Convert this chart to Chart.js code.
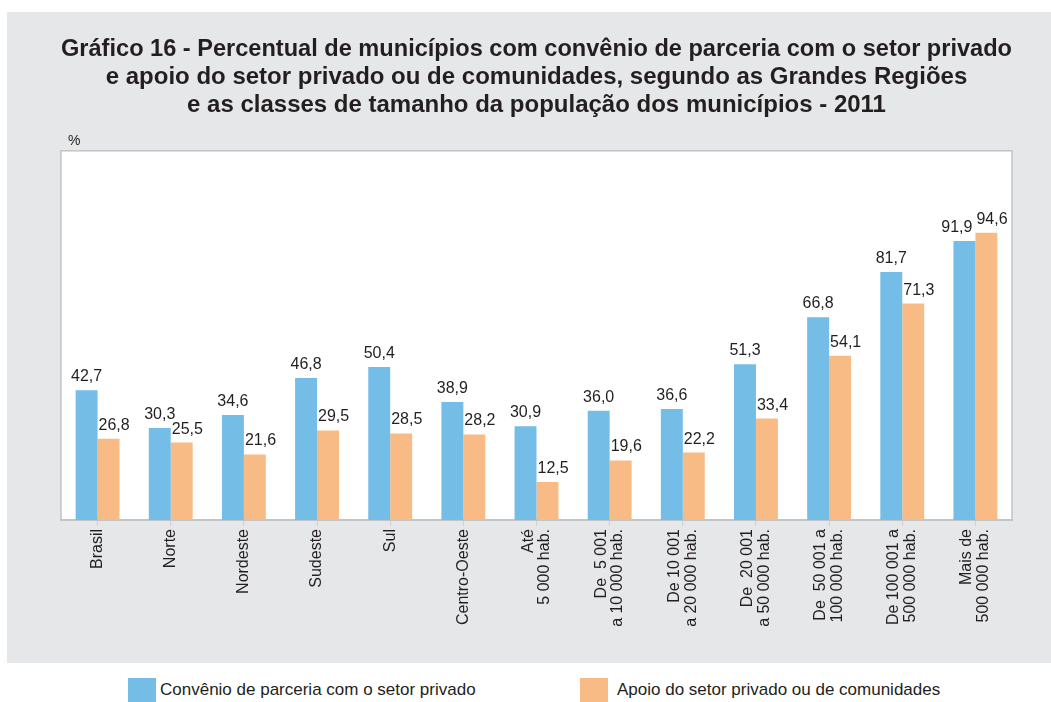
<!doctype html>
<html lang="pt-BR">
  <head>
    <meta charset="utf-8">
    <title>Gráfico 16 - Percentual de municípios com convênio de parceria</title>
    <style>
      * {
        margin: 0;
        padding: 0;
      }
      body {
        width: 1051px;
        height: 702px;
        position: relative;
        overflow: hidden;
        background: #fff;
        font-family: "Liberation Sans", Arial, sans-serif;
        color: #231f20;
      }
      .panel {
        position: absolute;
        left: 7px;
        top: 12px;
        width: 1044px;
        height: 651px;
        background: #e6e7e9;
      }
      .chartBox {
        position: absolute;
        left: 0;
        top: 0;
        width: 1051px;
        height: 663px;
      }
      .legend .item {
        position: absolute;
        top: 678px;
        height: 24px;
        display: flex;
        align-items: center;
        font-size: 17px;
        white-space: nowrap;
      }
      .legend .swatch {
        width: 28px;
        height: 24px;
      }
    </style>
  </head>
  <body>
    <div class="panel"></div>
    <div class="chartBox">
      <canvas id="myChart"></canvas>
    </div>
    <div class="legend">
      <div class="item" style="left:128px">
        <span class="swatch" style="background:#74bde7;margin-right:4px"></span>
        <span>Convênio de parceria com o setor privado</span>
      </div>
      <div class="item" style="left:580px">
        <span class="swatch" style="background:#f9bb85;margin-right:9px"></span>
        <span>Apoio do setor privado ou de comunidades</span>
      </div>
    </div>
    <script src="https://cdn.jsdelivr.net/npm/chart.js"></script>
    <script>
    const titleLines = [
      'Gráfico 16 - Percentual de municípios com convênio de parceria com o setor privado',
      'e apoio do setor privado ou de comunidades, segundo as Grandes Regiões',
      'e as classes de tamanho da população dos municípios - 2011'
    ];
    const categories = [
      'Brasil', 'Norte', 'Nordeste', 'Sudeste', 'Sul', 'Centro-Oeste',
      ['Até', '5 000 hab.'],
      ['De  5 001', 'a 10 000 hab.'],
      ['De 10 001', 'a 20 000 hab.'],
      ['De  20 001', 'a 50 000 hab.'],
      ['De  50 001 a', '100 000 hab.'],
      ['De 100 001 a', '500 000 hab.'],
      ['Mais de', '500 000 hab.']
    ];
    const convenio = [42.7, 30.3, 34.6, 46.8, 50.4, 38.9, 30.9, 36.0, 36.6, 51.3, 66.8, 81.7, 91.9];
    const apoio = [26.8, 25.5, 21.6, 29.5, 28.5, 28.2, 12.5, 19.6, 22.2, 33.4, 54.1, 71.3, 94.6];
    const seriesNames = ['Convênio de parceria com o setor privado', 'Apoio do setor privado ou de comunidades'];

    const family = '"Liberation Sans", Arial, sans-serif';
    const ink = '#231f20';

    // white plot box with grey frame, plus the "%" unit
    const panelPlugin = {
      id: 'panel',
      beforeDraw(chart) {
        const {ctx, chartArea: a} = chart;
        ctx.save();
        ctx.fillStyle = '#fff';
        ctx.fillRect(a.left, a.top, a.right - a.left, a.bottom - a.top);
        ctx.strokeStyle = '#c3c4c6';
        ctx.lineWidth = 1.5;
        ctx.strokeRect(a.left, a.top, a.right - a.left, a.bottom - a.top);
        ctx.fillStyle = ink;
        ctx.font = '14px ' + family;
        ctx.textAlign = 'left';
        ctx.textBaseline = 'alphabetic';
        ctx.fillText('%', a.left + 7, a.top - 6);
        ctx.restore();
      }
    };

    // value above each bar, pt-BR decimal comma
    const valuePlugin = {
      id: 'values',
      afterDatasetsDraw(chart) {
        const ctx = chart.ctx;
        const blue = chart.getDatasetMeta(0).data;
        const orange = chart.getDatasetMeta(1).data;
        const fmt = v => v.toFixed(1).replace('.', ',');
        ctx.save();
        ctx.fillStyle = ink;
        ctx.font = '16px ' + family;
        ctx.textBaseline = 'alphabetic';
        blue.forEach((bar, j) => {
          const a = fmt(convenio[j]);
          const b = fmt(apoio[j]);
          const ob = orange[j];
          const bx = ob.x - ob.width / 2 + 1;
          const aw = ctx.measureText(a).width;
          // blue label centred, pushed left only if it would sit on the orange one
          let ax = bar.x - aw / 2;
          if (ax + aw > bx - 4 && Math.abs(bar.y - ob.y) < 12) ax = bx - 4 - aw;
          ctx.textAlign = 'left';
          ctx.fillText(a, ax, bar.y - 9);
          ctx.fillText(b, bx, ob.y - 9);
        });
        ctx.restore();
      }
    };

    // rotated category labels, multi-line ones centred on the tick
    const xLabelPlugin = {
      id: 'xlabels',
      afterDraw(chart) {
        const {ctx} = chart;
        const scale = chart.scales.x;
        const lh = 16.8;
        ctx.save();
        ctx.fillStyle = ink;
        ctx.font = '16px ' + family;
        ctx.textAlign = 'right';
        ctx.textBaseline = 'middle';
        chart.data.labels.forEach((label, i) => {
          const lines = Array.isArray(label) ? label : [label];
          const x0 = scale.getPixelForTick(i);
          lines.forEach((line, k) => {
            ctx.save();
            ctx.translate(x0 + (k - (lines.length - 1) / 2) * lh, scale.top + 9);
            ctx.rotate(-Math.PI / 2);
            ctx.fillText(line, 0, 0);
            ctx.restore();
          });
        });
        ctx.restore();
      }
    };

    new Chart(document.getElementById('myChart'), {
      type: 'bar',
      data: {
        labels: categories,
        datasets: [{
          label: seriesNames[0],
          data: convenio,
          backgroundColor: '#74bde7',
          categoryPercentage: 0.6,
          barPercentage: 1
        }, {
          label: seriesNames[1],
          data: apoio,
          backgroundColor: '#f9bb85',
          categoryPercentage: 0.6,
          barPercentage: 1
        }]
      },
      options: {
        responsive: true,
        maintainAspectRatio: false,
        animation: false,
        layout: {
          padding: { left: 61, right: 39, top: 0, bottom: 0 }
        },
        plugins: {
          legend: { display: false },
          tooltip: { enabled: false },
          title: {
            display: true,
            text: titleLines,
            color: ink,
            font: { family: family, size: 24, weight: 'bold', lineHeight: 1.15 },
            padding: { top: 36, bottom: 32 }
          }
        },
        scales: {
          x: {
            offset: true,
            grid: {
              offset: false,
              drawOnChartArea: false,
              tickLength: 6,
              color: '#d0d1d3'
            },
            border: { display: true, color: '#c3c4c6', width: 2 },
            ticks: { display: false },
            afterFit(scale) {
              scale.height = 143;
            }
          },
          y: {
            display: false,
            min: 0,
            max: 121.6
          }
        }
      },
      plugins: [panelPlugin, valuePlugin, xLabelPlugin]
    });
    </script>
  </body>
</html>
